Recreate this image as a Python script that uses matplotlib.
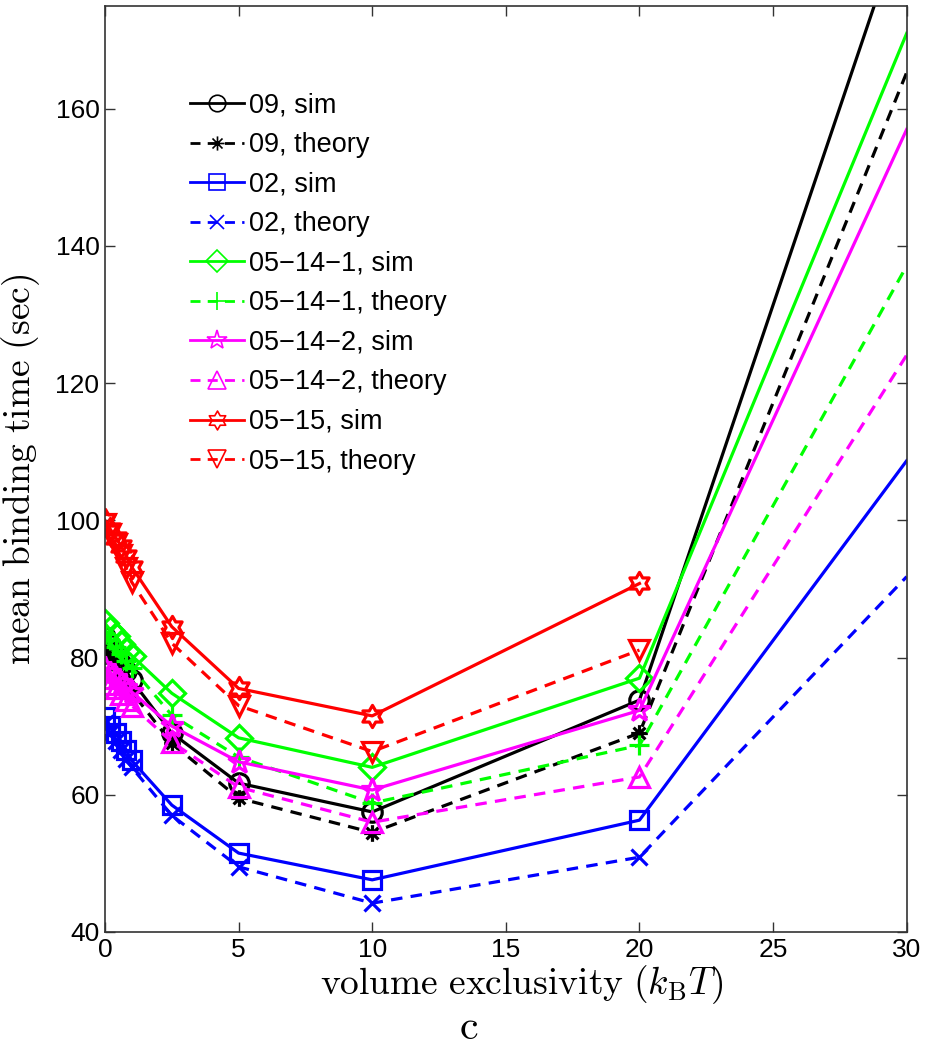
import numpy as np
import matplotlib
matplotlib.use("Agg")
import matplotlib.pyplot as plt
from matplotlib.path import Path

plt.rcParams['font.family'] = ['Liberation Sans', 'DejaVu Sans']
plt.rcParams['mathtext.fontset'] = 'cm'

# ===== DATA =====
x = [0, 0.2, 0.4, 0.6, 0.8, 1.0, 2.5, 5, 10, 20, 30]

t09_sim = [83.0, 81.8, 80.5, 79.0, 78.0, 76.7, 69.0, 61.7, 57.5, 73.8, 189.0]
t09_theory = [81.5, 80.0, 79.0, 77.5, 76.5, 75.0, 67.5, 59.5, 54.5, 69.0, 165.3]
t02_sim = [71.3, 70.0, 69.0, 67.8, 66.5, 65.0, 58.5, 51.5, 47.6, 56.3, 108.7]
t02_theory = [70.5, 69.0, 67.8, 66.5, 65.2, 64.0, 57.0, 49.5, 44.2, 50.9, 91.8]
t05141_sim = [85.0, 84.0, 83.2, 82.0, 81.0, 80.3, 74.8, 68.3, 64.0, 77.0, 171.0]
t05141_theory = [83.5, 82.5, 81.5, 80.5, 79.5, 78.5, 71.6, 65.5, 58.8, 67.2, 137.1]
t05142_sim = [78.5, 77.8, 77.0, 76.3, 75.5, 75.0, 70.0, 64.8, 60.7, 72.3, 157.0]
t05142_theory = [77.0, 76.2, 75.5, 74.7, 73.8, 73.0, 67.7, 61.1, 56.0, 62.6, 124.1]
t0515_sim = [100.0, 98.7, 97.5, 96.3, 94.8, 93.2, 84.5, 75.5, 71.5, 90.8, np.nan]
t0515_theory = [99.5, 98.0, 96.5, 95.0, 93.0, 91.0, 82.1, 73.0, 66.3, 81.1, np.nan]

labels = ["09, sim", "09, theory", "02, sim", "02, theory",
          "05\u221214\u22121, sim", "05\u221214\u22121, theory",
          "05\u221214\u22122, sim", "05\u221214\u22122, theory",
          "05\u221215, sim", "05\u221215, theory"]

# ===== custom MATLAB-like markers =====
ang = np.deg2rad(90 + np.arange(12) * 30)
rad = np.where(np.arange(12) % 2 == 0, 1.0, 1 / np.sqrt(3))
hexagram = Path(np.column_stack([rad * np.cos(ang), rad * np.sin(ang)]).tolist()
                + [[0, 1]], closed=True)

ast_verts, ast_codes = [], []
for a in np.deg2rad([0, 45, 90, 135]):
    ast_verts += [(np.cos(a), np.sin(a)), (-np.cos(a), -np.sin(a))]
    ast_codes += [Path.MOVETO, Path.LINETO]
asterisk = Path(ast_verts, ast_codes)

black, blue, green, magenta, red = 'k', '#0000ff', '#00ff00', '#ff00ff', '#ff0000'
series = [t09_sim, t09_theory, t02_sim, t02_theory, t05141_sim, t05141_theory,
          t05142_sim, t05142_theory, t0515_sim, t0515_theory]
colors = [black, black, blue, blue, green, green, magenta, magenta, red, red]
markers = ['o', asterisk, 's', 'x', 'D', '+', '*', '^', hexagram, 'v']
msizes = [14, 12, 13, 12, 13, 15, 17, 15, 16, 15]

fig = plt.figure(figsize=(9.29, 10.5), dpi=100)
ax = fig.add_axes([0.113, 0.1124, 0.863, 0.882])

for i, (y, c, m, ms, lab) in enumerate(zip(series, colors, markers, msizes, labels)):
    ls = '-' if i % 2 == 0 else '--'
    ax.plot(x, y, color=c, linestyle=ls, linewidth=2.3, marker=m, markersize=ms,
            markerfacecolor='none', markeredgecolor=c, markeredgewidth=2.3,
            markevery=list(range(len(x) - 1)), dashes=(3.6, 2.6) if ls == '--' else (None, None),
            label=lab)

ax.set_xlim(0, 30)
ax.set_ylim(40, 175)
ax.set_xticks([0, 5, 10, 15, 20, 25, 30])
ax.set_yticks([40, 60, 80, 100, 120, 140, 160])
ax.tick_params(direction='in', length=7, width=1, top=True, right=True,
               labelsize=19, colors='#333333', labelcolor='black', pad=4)
for s in ax.spines.values():
    s.set_color('#333333')
    s.set_linewidth(1.2)

ax.set_xlabel(r'$\mathrm{volume\ exclusivity\ }(k_\mathrm{B}T)$', fontsize=27, labelpad=0)
ax.set_ylabel(r'$\mathrm{mean\ binding\ time\ (sec)}$', fontsize=27)
ax.yaxis.set_label_coords(-0.078, 0.5)
ax.xaxis.set_label_coords(0.52, -0.034)

leg = ax.legend(loc='upper left', bbox_to_anchor=(0.092, 0.918), frameon=False,
                fontsize=19.5, handlelength=2.0, handletextpad=0.2, labelspacing=0.5,
                borderaxespad=0.0)
for h in leg.get_lines():
    h.set_markersize(h.get_markersize() * 0.85)
    h.set_linewidth(2.0)
    h.set_markeredgewidth(1.2)

fig.text(0.505, 0.002, r'$\mathrm{c}$', fontsize=30, ha='center', va='bottom')

fig.savefig('out.png', dpi=100)
